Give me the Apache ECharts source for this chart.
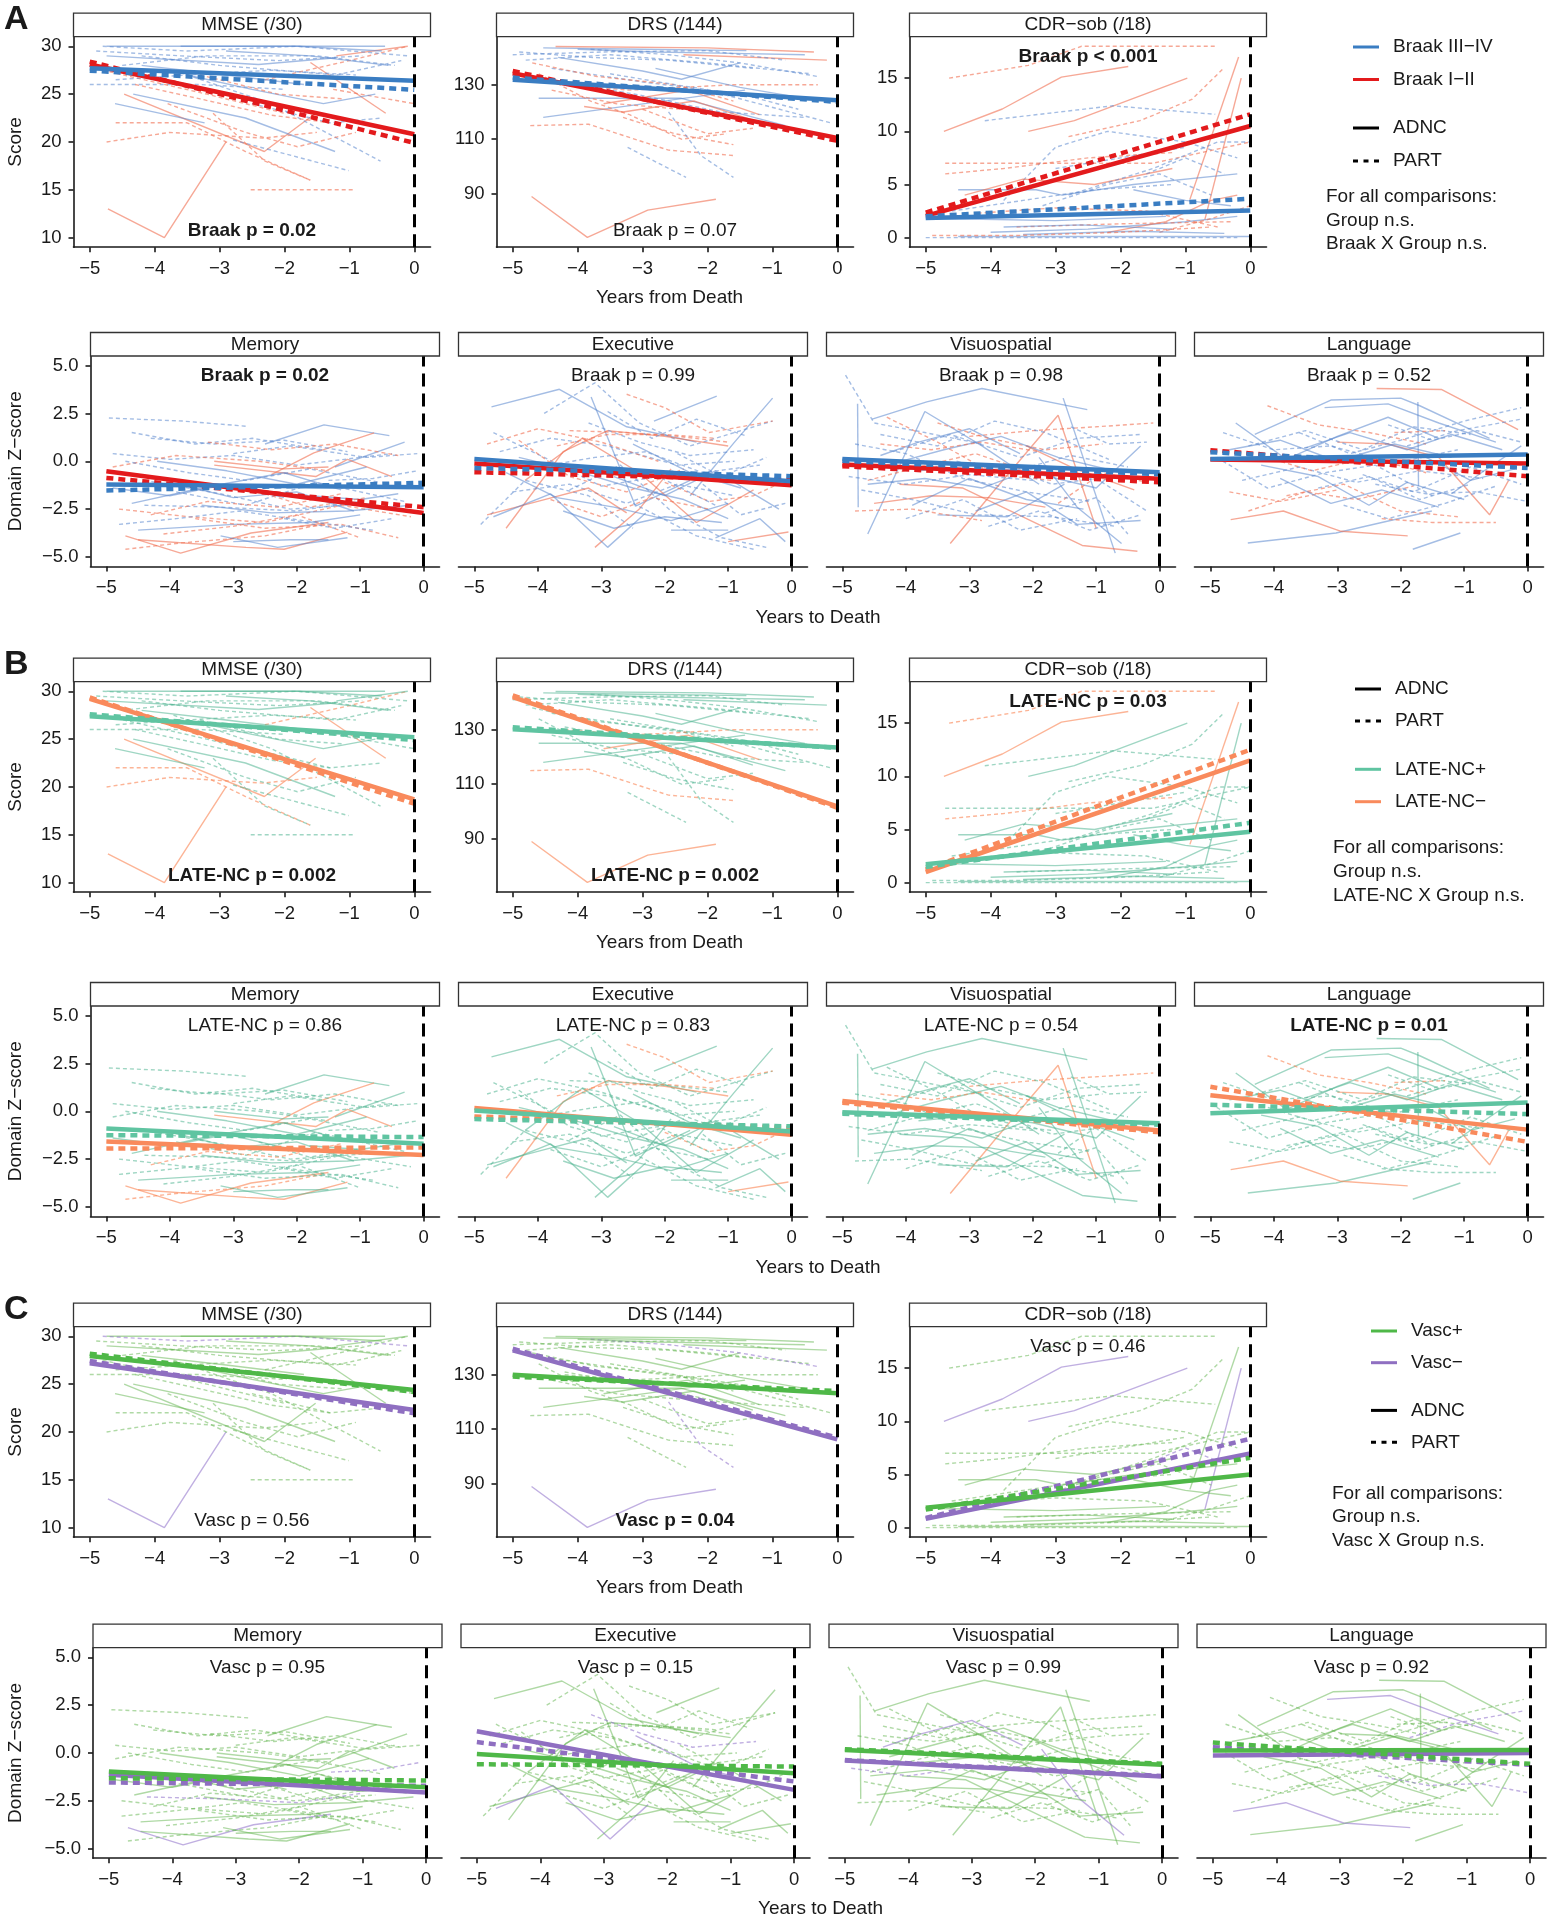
<!DOCTYPE html>
<html>
<head>
<meta charset="utf-8">
<script src="https://cdn.jsdelivr.net/npm/echarts@6/dist/echarts.min.js"></script>
<style>
html, body { margin: 0; padding: 0; background: #fff; }
#main { width: 1550px; height: 1920px; }
</style>
</head>
<body>
<div id="main"></div>
<script>
var FONT = '"Liberation Sans", Arial, sans-serif';
var INK = '#1a1a1a';

// ---- axes ----
var xTicks = [-5, -4, -3, -2, -1, 0];
var measureNames = ['MMSE (/30)', 'DRS (/144)', 'CDR\u2212sob (/18)', 'Memory', 'Executive', 'Visuospatial', 'Language'];
var mmseTicks = [10, 15, 20, 25, 30];
var drsTicks = [90, 110, 130];
var cdrTicks = [0, 5, 10, 15];
var domainTicks = [-5, -2.5, 0, 2.5, 5];

// ---- individual trajectories: code = [ADNC/PART][Braak hi/lo][LATE +/-][Vasc +/-], then x,y pairs ----
var mmseSubjects = [
  ['Al--', [-4.72, 13, -3.85, 10, -2.9, 20]],
  ['Al-+', [-4.47, 25, -2.31, 19, -1.52, 23]],
  ['Ah++', [-4.61, 24, -3.23, 22]],
  ['Ah++', [-4.33, 25, -2.6, 22.5, -1.22, 19]],
  ['Al-+', [-1.6, 28.3, -0.44, 23]],
  ['Ah++', [-4.74, 30, -3, 30, -0.45, 30]],
  ['Ah++', [-4.74, 29, -2.4, 28.1, -1.2, 28.8]],
  ['Pl-+', [-4.74, 20, -3.77, 21, -2.33, 20.4, -1.5, 21]],
  ['Pl-+', [-4.6, 22, -3.5, 22, -2.6, 19, -1.6, 16]],
  ['Pl++', [-2.52, 15, -1.5, 15, -0.91, 15]],
  ['Ph++', [-3.71, 27.5, -2.2, 24, -0.52, 18]],
  ['Ph++', [-5, 26, -3.3, 26, -2, 25.5]],
  ['Ph++', [-2.79, 20.2, -1.01, 17]],
  ['Pl++', [-1.25, 25.5, 0, 24]],
  ['Pl-+', [-2.3, 26.5, -1, 28.5, -0.1, 30]],
  ['Al++', [-1.2, 29, -0.1, 30]],
  ['Ph+-', [-4.8, 30, -3.5, 29.5, -1.8, 30, -0.1, 29]],
  ['Ph++', [-4.5, 28, -3.2, 29, -1.5, 29, -0.3, 28]],
  ['Pl++', [-4.8, 27.5, -3.2, 25, -2, 23]],
  ['Pl++', [-3.1, 23, -2.3, 18, -1.6, 16]],
  ['Ah++', [-3.5, 27, -2.5, 25.5, -1.4, 24, -0.6, 25]],
  ['Pl++', [-3.8, 24, -2.6, 21, -1.8, 19.5, -0.9, 21]],
  ['Ph++', [-4.2, 29, -3, 28, -1.2, 27, -0.2, 28.5]],
  ['Ah++', [-3.6, 30, -1.8, 30, -0.5, 29.5]],
  ['Pl++', [-4.3, 26, -3.3, 24.5, -2.2, 22.8, -1.3, 22]],
  ['Ph++', [-2.5, 24, -1.3, 22, -0.5, 22.5]],
  ['Ph++', [-4.9, 29.5, -3.6, 29, -2.1, 28.5, -0.8, 29]],
  ['Ah++', [-4.2, 28, -2.9, 27, -1.7, 26]],
  ['Pl++', [-3.3, 27, -2.1, 25, -1.1, 24.5]],
  ['Ph++', [-4.6, 26.5, -3.5, 27, -2.2, 27.5, -0.9, 27]],
  ['Ah++', [-2.9, 29.5, -1.6, 29, -0.4, 28]]
];

var drsSubjects = [
  ['Al--', [-4.71, 89, -3.85, 74, -2.92, 84, -1.87, 88]],
  ['Ah++', [-4.53, 143.5, -3, 143, -1.4, 142.5]],
  ['Al++', [-4.34, 144, -2, 143.5, -0.36, 142]],
  ['Al++', [-2.37, 141, -0.16, 139]],
  ['Ah++', [-4.53, 118, -2.37, 125, -1.42, 128]],
  ['Ah++', [-4.6, 125, -2.4, 125, -0.8, 115]],
  ['Al++', [-3.9, 122, -3.3, 120, -2.2, 124, -1.3, 117]],
  ['Pl-+', [-4.73, 115, -3.83, 115.5, -2.6, 106, -1.58, 104]],
  ['Ph++', [-3.23, 107, -2.33, 96]],
  ['Ph++', [-4.8, 139, -3.5, 141, -2, 138, -0.4, 134]],
  ['Ph++', [-4.4, 136, -3, 131, -2, 128, -0.1, 116]],
  ['Ah++', [-4.3, 140, -3, 135, -2.4, 132, -1.5, 138]],
  ['Pl++', [-4.6, 134, -3.8, 124, -3.2, 119, -2.4, 110, -1.7, 112]],
  ['Pl++', [-3, 121, -2, 112, -1.3, 114]],
  ['Ph++', [-5, 141, -3.6, 142, -2, 142.5, -0.8, 139]],
  ['Ph++', [-4.2, 131, -3, 126, -1.8, 120, -0.5, 118]],
  ['Al-+', [-3.6, 123, -2.3, 128, -1.2, 119]],
  ['Pl++', [-4.7, 138, -3.7, 133, -2.5, 130, -1.6, 124]],
  ['Ph+-', [-3.8, 143, -2.6, 141, -1.5, 138, -0.3, 133]],
  ['Pl-+', [-4.2, 130, -3.2, 128, -1.6, 130, -0.3, 130]],
  ['Ah++', [-2.8, 136, -1.5, 129, -0.5, 125]],
  ['Pl++', [-3.3, 118, -2.5, 112, -1.6, 108]],
  ['Ph+-', [-2.6, 120, -2.1, 104, -1.6, 96]],
  ['Ph++', [-4.9, 142, -3.8, 140, -2.6, 139, -1.3, 136]],
  ['Ah++', [-4.0, 143, -2.8, 142, -1.6, 141.5, -0.5, 141]],
  ['Pl++', [-4.4, 128, -3.4, 123, -2.4, 121]],
  ['Ph++', [-3.5, 134, -2.5, 130, -1.4, 126, -0.6, 121]]
];

var cdrSubjects = [
  ['Al--', [-4.72, 10, -3.82, 12.1, -2.91, 15.1, -1.88, 16.1]],
  ['Al+-', [-3.42, 10, -2.71, 11, -0.97, 15]],
  ['Pl-+', [-4.64, 15, -3.42, 16.2, -2.6, 18, -0.54, 18]],
  ['Al-+', [-0.93, 3.6, -0.18, 17]],
  ['Al+-', [-0.7, 1.7, -0.14, 15]],
  ['Ph++', [-4.09, 11, -2.12, 12.4, -0.54, 11.6]],
  ['Ph++', [-3.8, 3.5, -3, 8.5, -2.2, 10, -1, 9, -0.2, 7.5]],
  ['Ah++', [-4.5, 4.5, -3.3, 4.5, -2.9, 4, -1.8, 5, -0.2, 6]],
  ['Pl++', [-4.7, 7, -3.2, 7, -1.5, 7, 0, 9]],
  ['Pl-+', [-4.7, 6, -3.8, 6.5, -2.5, 7.5, -1.2, 8]],
  ['Al++', [-4.4, 4, -3.5, 5.5, -2.4, 5, -1.2, 6.5]],
  ['Ah++', [-4.8, 1.8, -3, 1.6, -1.3, 2]],
  ['Ah++', [-4.5, 0.1, -2, 0.1, 0, 0.1]],
  ['Ph++', [-5, 0, -2.5, 0, -0.2, 0]],
  ['Ah++', [-4, 0.5, -2.5, 0.8, -1, 1.5, -0.2, 2]],
  ['Pl++', [-3.6, 1, -2, 1.3, -0.3, 1.5]],
  ['Ph++', [-3.2, 3, -2.2, 5, -1.4, 6, -0.6, 4]],
  ['Pl++', [-2.8, 9.5, -1.7, 11, -0.9, 13, -0.4, 16]],
  ['Ph++', [-2.8, 4, -1.5, 6.5, -0.5, 9, 0, 9]],
  ['Al++', [-2.2, 0.5, -1.3, 1.5, -0.6, 3.5, -0.2, 4]],
  ['Ah++', [-1.8, 4.5, -1, 3.5, -0.3, 3]],
  ['Pl++', [-4.2, 2.3, -3, 2.8, -1.6, 2.5, -0.5, 1]],
  ['Ph+-', [-1.6, 6, -1, 7.5, -0.4, 6]],
  ['Pl++', [-1.4, 0.5, -0.6, 1.8, 0, 3]],
  ['Ah++', [-3.5, 0.3, -1.8, 0.6, -0.4, 0.4]],
  ['Ph++', [-4.6, 2.5, -3.5, 3.5, -2.4, 4.5, -1.2, 5]],
  ['Ah++', [-3.8, 1.0, -2.6, 1.2, -1.2, 0.8]],
  ['Pl++', [-4.9, 0.2, -3.6, 0.2, -2.0, 0.5, -0.6, 1]],
  ['Ph++', [-3.0, 6.5, -2.0, 7.5, -1.0, 8.5]]
];

var memorySubjects = [
  ['Ph++', [-4.96, 2.26, -3.8, 2.1, -2.8, 1.83]],
  ['Ah++', [-2.5, 0.9, -1.57, 1.9, -0.54, 1.34]],
  ['Al-+', [-2.4, -0.7, -1.73, 0.44, -0.78, 1.48]],
  ['Ah++', [-1.4, -0.3, -0.3, 1.0]],
  ['Al--', [-4.7, -3.9, -3.83, -4.8, -2.72, -3.75, -1.5, -3.2]],
  ['Al-+', [-4.5, -4.1, -2.8, -4.5, -2.2, -4.6, -1.2, -3.7]],
  ['Pl-+', [-4.7, -4.6, -3.83, -4.27, -2.5, -3.9, -1.6, -3.3]],
  ['Al-+', [-3.3, -0.2, -1.7, -0.8, -1.2, 0.1, -0.5, -0.8]],
  ['Ah++', [-4.5, -3.6, -3, -3.3, -1.8, -3.2, -1, -2.8]],
  ['Ah++', [-3, -4.2, -2.1, -4.1, -1.5, -4.1]],
  ['Ph++', [-4.9, 0.4, -4, 0.1, -3, 0.3, -2, -0.2, -0.5, 0.4]],
  ['Ph++', [-4.3, 1.2, -3.3, 0.9, -2.2, 1.1, -1.2, 0.5]],
  ['Ah++', [-4.6, -2.2, -3.5, -1.4, -2.2, -0.6, -1.3, -1.5]],
  ['Pl++', [-4.8, -2.5, -3.7, -2.9, -2.5, -3.2, -1.3, -2.3, -0.2, -2.9]],
  ['Ph++', [-3.9, -1.6, -2.8, -2.3, -1.7, -1.1, -0.3, -2.1]],
  ['Ah++', [-4.2, 0.0, -3.1, -0.5, -2, -1.2, -0.9, -0.3]],
  ['Pl++', [-3.6, -3.0, -2.5, -3.5, -1.3, -3.3, -0.4, -4.0]],
  ['Ph++', [-4.4, -1.0, -3.2, -1.7, -2.1, -2.5, -0.8, -2.2]],
  ['Pl++', [-4.9, -0.3, -3.9, 0.3, -2.6, 0.0, -1.5, -0.5]],
  ['Ah++', [-3.5, -2.3, -2.4, -2.7, -1.2, -2.6, -0.2, -2.3]],
  ['Ph+-', [-1.5, -1.0, -0.8, -0.9, -0.1, -0.5]],
  ['Ph++', [-3.0, 0.4, -2.1, 0.8, -0.9, 0.2, -0.1, 0.4]],
  ['Al++', [-3.3, 0.0, -2.2, -0.4, -1.5, -0.3]],
  ['Pl++', [-4.1, -3.8, -3, -3.4, -2, -2.8, -1, -4.0]],
  ['Ph+-', [-4.4, -2.3, -3.2, -2.4, -2, -2.6, -1, -2.1]],
  ['Ph++', [-4.6, 1.5, -3.6, 0.9, -2.7, 1.2, -1.6, 0.6]],
  ['Ah++', [-1.8, -1.8, -1, -2.0, -0.4, -1.7]],
  ['Pl++', [-2.6, -1.6, -1.8, -2.4, -0.9, -1.9]],
  ['Ph++', [-4.8, -3.3, -3.9, -3.0, -2.9, -2.6, -1.9, -3.1, -0.8, -3.6]],
  ['Ah++', [-4.0, -1.1, -3.0, -1.9, -2.0, -1.6, -1.1, -2.6]],
  ['Pl++', [-3.4, 1.0, -2.4, 0.6, -1.4, 0.9, -0.4, 0.3]],
  ['Ph++', [-4.7, 0.0, -3.7, -0.6, -2.8, -1.0, -1.8, -0.4, -0.7, -1.1]],
  ['Ah++', [-3.2, -3.9, -2.3, -4.5, -1.2, -4.0]],
  ['Pl-+', [-4.3, -2.8, -3.4, -2.1, -2.3, -2.4, -1.3, -1.7]],
  ['Ph++', [-2.2, -3.0, -1.4, -3.5, -0.5, -3.0]],
  ['Ah++', [-4.9, -1.4, -4.0, -1.8, -3.1, -1.2, -2.2, -1.9]]
];

var executiveSubjects = [
  ['Ah++', [-4.73, 2.84, -3.66, 3.76, -2.6, 1.8, -1.5, 1.0]],
  ['Ah++', [-3.16, 3.36, -2.46, -2.35, -1.6, -1.0]],
  ['Ah++', [-2.17, 2.1, -1.18, 3.4]],
  ['Ph++', [-3.9, 2.5, -3.1, 4.1, -2.4, 2.0, -1.6, 0.8, -0.3, 2.1]],
  ['Pl-+', [-2.6, 3.5, -2.0, 2.8, -1.3, 1.5, -0.3, 2.1]],
  ['Al-+', [-4.5, -3.5, -3.6, 0.5, -2.9, 1.6, -2.0, 1.3, -1.0, 0.8]],
  ['Ah++', [-1.9, -3.6, -1.0, -3.6]],
  ['Al-+', [-1.0, -4.2, -0.05, -3.7]],
  ['Al++', [-3.1, -4.5, -2.4, -2.5, -1.9, -0.4]],
  ['Ph++', [-4.9, -3.3, -4.2, -1.0, -3.2, -1.8, -2.5, -3.5]],
  ['Ph++', [-4.6, 0.5, -3.8, 1.2, -2.9, 0.8, -1.8, -0.2, -0.9, 0.0]],
  ['Al++', [-4.2, -1.0, -3.3, 1.2, -2.4, -0.6, -1.5, -3.2, -0.6, -1.5]],
  ['Ah++', [-2.8, -0.8, -2.0, -1.8, -1.2, -0.5, -0.2, -2.5]],
  ['Pl++', [-4.8, 0.9, -4.0, 1.7, -3.0, 1.0, -2.1, 0.0]],
  ['Ph++', [-3.5, -1.5, -2.7, -0.2, -1.9, -2.6, -1.1, -4.0, -0.4, -4.5]],
  ['Ah++', [-4.3, 0.2, -3.4, -0.5, -2.5, -1.4, -1.7, -2.0, -1.0, -3.0]],
  ['Ph++', [-1.4, -1.2, -0.8, -2.8, -0.1, -2.2]],
  ['Ah++', [-1.6, -1.8, -0.9, 1.0, -0.3, 3.3]],
  ['Pl++', [-3.8, -2.0, -3.0, -2.9, -2.2, -1.9, -1.3, -2.5]],
  ['Ph++', [-4.4, -1.6, -3.5, -1.2, -2.6, -2.2, -1.8, -1.2, -0.9, -1.8]],
  ['Al++', [-4.8, -2.8, -4.0, -2.1, -3.2, -1.4, -2.6, -2.7]],
  ['Ph+-', [-3.2, 2.0, -2.4, 1.0, -1.6, 0.3, -0.6, 0.6]],
  ['Ah+-', [-4.7, -2.9, -3.8, -1.7, -2.9, -4.5, -2.3, -2.7]],
  ['Pl-+', [-2.0, -1.1, -1.3, -2.1, -0.6, -1.8, -0.1, -1.0]],
  ['Ph++', [-4.0, -0.3, -3.1, 0.2, -2.3, 0.5, -1.4, -0.6, -0.5, -0.2]],
  ['Ah++', [-1.2, -4.0, -0.5, -3.0, -0.1, -4.2]],
  ['Ph++', [-2.5, -2.2, -1.5, -3.9, -0.6, -4.6]],
  ['Pl++', [-3.5, 1.6, -2.6, 1.5, -1.8, 1.3, -1.0, 1.0]],
  ['Ph++', [-4.7, 1.5, -3.9, 0.2, -3.0, -1.3, -2.1, -0.8, -1.2, -2.3]],
  ['Ah++', [-3.6, -2.6, -2.8, -3.5, -2.0, -2.9, -1.1, -3.2]],
  ['Pl++', [-4.3, 1.1, -3.5, -0.8, -2.6, -1.6, -1.7, -0.4]],
  ['Ph++', [-2.9, 2.6, -2.2, 1.2, -1.5, 2.2, -0.7, 1.3]],
  ['Ah++', [-4.5, -0.6, -3.7, -1.9, -2.8, -2.4, -1.9, -3.1, -1.0, -2.2]],
  ['Pl-+', [-3.7, 0.8, -2.9, 1.4, -2.0, 1.4, -1.2, 1.2]],
  ['Ph++', [-1.8, 0.4, -1.1, -0.8, -0.4, 0.2]],
  ['Ah+-', [-2.5, 0.9, -1.6, -0.6, -0.8, -1.4]]
];

var visuoSubjects = [
  ['Ah++', [-4.53, 2.2, -3.67, 3.1, -2.8, 3.8, -1.14, 2.7]],
  ['Ah++', [-1.52, 3.3, -0.7, -4.8]],
  ['Al++', [-4.1, -1.2, -3.1, -1.4, -1.22, -4.4, -0.35, -4.7]],
  ['Al-+', [-3.3, -4.3, -2.6, -1.5, -1.6, 2.4, -1.0, -3.5]],
  ['Ah++', [-4.76, 3.0, -4.75, -2.4]],
  ['Ah++', [-4.6, -3.8, -3.7, 2.6, -2.8, 0.8, -1.9, -1.2]],
  ['Ph++', [-4.95, 4.5, -4.5, 2.0, -3.7, 1.5, -2.8, 0.9]],
  ['Pl++', [-4.3, 2.3, -3.5, 1.0, -2.6, -0.7, -1.7, -1.0]],
  ['Al++', [-4.5, -2.2, -3.6, -1.8, -2.7, -1.9, -1.8, -2.4]],
  ['Ph++', [-4.2, 0.5, -3.3, 1.4, -2.2, 0.2, -1.3, 1.2, -0.3, 1.4]],
  ['Pl-+', [-3.0, 1.3, -2.0, 1.6, -1.0, 1.8, -0.1, 2.0]],
  ['Ah++', [-3.8, -0.5, -2.9, -0.2, -2.0, -0.6, -1.0, -1.4, -0.3, 0.8]],
  ['Ph++', [-4.7, -1.5, -3.9, -2.0, -2.9, -2.8, -1.7, -2.9, -0.7, -3.4]],
  ['Ph++', [-2.5, -0.2, -1.7, -1.2, -1.0, -0.9, -0.2, -2.6]],
  ['Ah++', [-2.9, -2.6, -2.1, -1.6, -1.3, -3.3, -0.3, -3.1]],
  ['Pl++', [-4.6, -1.0, -3.8, -0.3, -2.9, 0.4, -2.1, -0.5]],
  ['Ph++', [-4.0, -3.0, -3.1, -2.0, -2.2, -3.6, -1.3, -3.0]],
  ['Al++', [-2.1, 0.8, -1.4, -0.3, -0.4, -1.5]],
  ['Ph++', [-1.8, -2.7, -1.0, -1.9, -0.5, -3.8]],
  ['Ah+-', [-4.4, 0.3, -3.8, 1.0, -3.0, 1.7, -2.2, 0.4]],
  ['Ph+-', [-4.9, -0.8, -4.0, -1.2, -3.0, -0.7, -2.0, -1.0]],
  ['Ph++', [-4.4, 1.4, -3.5, 0.8, -2.6, 2.1, -1.8, 1.5, -0.8, 0.1]],
  ['Ah++', [-3.5, -2.8, -2.4, -2.9, -1.5, -1.2]],
  ['Pl++', [-1.6, -2.2, -0.9, -0.6, -0.2, -1.1]],
  ['Ph++', [-3.2, 0.0, -2.4, -0.6, -1.4, 0.3, -0.5, -0.3]],
  ['Ah+-', [-1.9, 0.2, -1.3, -2.4, -0.6, -4.3]],
  ['Pl++', [-4.8, -2.6, -3.9, -2.5, -2.8, -3.1]],
  ['Ph++', [-4.8, 0.9, -4.0, 0.4, -3.1, -0.9, -2.1, -1.6, -1.1, -2.1]],
  ['Ah++', [-3.9, -2.3, -3.0, -0.9, -2.1, -2.0, -1.2, -2.5]],
  ['Pl++', [-3.5, 2.0, -2.7, 1.2, -1.8, 0.6, -0.9, 0.9]],
  ['Ph++', [-2.7, -3.4, -1.9, -2.6, -1.1, -3.6, -0.3, -2.8]],
  ['Ah++', [-4.3, -0.2, -3.4, 0.6, -2.5, 1.3, -1.6, 0.2, -0.6, -0.6]],
  ['Pl-+', [-4.4, 0.9, -3.6, 0.6, -2.8, 1.0, -1.9, 0.5]],
  ['Ph++', [-1.4, 1.8, -0.8, 0.9, -0.2, 1.0]],
  ['Ah++', [-4.6, -1.2, -3.7, -0.9, -2.8, -1.4, -2.0, -0.4]]
];

var languageSubjects = [
  ['Al++', [-2.38, 3.8, -1.36, 3.75, -0.15, 1.65]],
  ['Ah++', [-4.3, 1.4, -3.1, 3.2, -2.0, 3.3, -1.7, 2.9, -0.6, 1.2]],
  ['Ah++', [-4.41, -4.27, -3.02, -3.75, -1.51, -2.6]],
  ['Ah++', [-1.81, -4.6, -1.06, -3.75]],
  ['Al--', [-4.68, -3.05, -3.85, -2.6, -2.94, -3.66, -1.89, -3.9]],
  ['Ah++', [-1.73, 3.1, -1.72, -1.3]],
  ['Pl-+', [-4.1, 2.9, -3.3, 1.9, -2.5, 1.5, -1.6, 0.9]],
  ['Ph++', [-4.8, 1.5, -4.0, 0.6, -3.1, 0.8, -2.1, -0.1, -1.1, 0.6]],
  ['Ph++', [-4.5, -1.0, -3.6, -0.3, -2.7, -1.1, -1.7, -0.5, -0.7, -0.9]],
  ['Ah++', [-4.6, 2.0, -3.8, 0.1, -3.0, 1.3, -2.2, 2.3, -1.4, 1.2]],
  ['Pl++', [-3.8, -1.8, -2.9, -1.2, -2.0, -2.6, -1.1, -2.9]],
  ['Ph++', [-3.6, 1.5, -2.8, 0.4, -2.0, 1.1, -1.0, 2.1, -0.1, 2.8]],
  ['Al-+', [-3.0, 1.0, -2.2, 0.9, -1.4, 0.2, -0.6, -2.8, -0.3, -1.0]],
  ['Ah++', [-4.2, -0.2, -3.3, -0.8, -2.5, -2.3, -1.9, -1.1, -1.0, -2.0]],
  ['Ph++', [-2.9, -2.3, -2.2, -3.0, -1.3, -2.2, -0.5, -1.3]],
  ['Pl++', [-2.3, -3.0, -1.5, -3.2, -0.5, -3.2]],
  ['Ah+-', [-3.2, 2.8, -2.2, 3.0, -1.4, 2.0, -0.5, 1.0]],
  ['Ph+-', [-1.9, 0.8, -1.1, 1.6, -0.1, 2.2]],
  ['Ph++', [-4.9, 0.2, -4.1, -1.4, -3.2, -0.6, -2.4, -0.2, -1.5, -1.8]],
  ['Ah++', [-3.5, 0.7, -2.8, 1.5, -1.9, 0.6, -1.2, 1.4, -0.4, 0.6]],
  ['Pl++', [-4.4, -2.6, -3.5, -1.6, -2.7, -2.0, -1.8, -1.3]],
  ['Ph++', [-2.6, -0.7, -1.8, -1.6, -0.9, -0.3, -0.1, -1.2]],
  ['Ah++', [-1.2, -1.7, -0.6, -0.3, -0.1, 0.8]],
  ['Ph+-', [-2.4, -1.2, -1.6, -1.7, -0.8, -1.6, 0, -2.1]],
  ['Pl++', [-4.7, -1.6, -3.9, -2.1, -3.0, -1.5]],
  ['Ph++', [-4.4, 0.8, -3.5, 1.6, -2.6, 0.6, -1.8, 1.8, -0.9, 1.4]],
  ['Ah++', [-3.9, -0.9, -3.1, -2.2, -2.3, -1.5, -1.4, -2.4]],
  ['Pl++', [-4.2, 0.3, -3.4, -0.5, -2.5, 0.2, -1.6, -0.6]],
  ['Ph++', [-2.2, 1.9, -1.5, 1.1, -0.8, 1.6, -0.1, 1.0]],
  ['Ah++', [-4.7, 0.6, -3.9, 1.1, -3.0, 0.0, -2.1, 0.9, -1.2, 0.2]],
  ['Pl-+', [-2.1, 1.5, -1.3, 1.6]],
  ['Ph++', [-3.3, -1.4, -2.5, -0.8, -1.7, -2.0, -0.9, -1.2]],
  ['Ah++', [-1.6, 0.2, -0.9, -1.0, -0.2, -0.4]]
];

// ---- fitted lines at year -5 and year 0: [g1 solid, g1 dashed, g2 solid, g2 dashed] ----
var braakFits = [
  [27.7, 26.4, 27.45, 25.45, 28.1, 20.8, 28.4, 19.9],
  [131.8, 124.3, 132.6, 123.7, 134.2, 110.5, 135, 109.4],
  [1.85, 2.55, 2.0, 3.66, 2.05, 10.5, 2.36, 11.6],
  [-1.22, -1.36, -1.53, -1.13, -0.52, -2.7, -0.87, -2.4],
  [0.12, -1.05, -0.35, -0.78, -0.12, -1.25, -0.57, -0.99],
  [0.12, -0.57, 0.02, -0.68, -0.17, -0.92, -0.26, -1.1],
  [0.12, 0.35, 0.47, -0.35, 0.09, -0.12, 0.58, -0.78]
];
var lateFits = [
  [27.4, 25.2, 27.6, 24.9, 29.2, 18.7, 29.35, 18.25],
  [130.2, 123.5, 130.9, 123.3, 141.9, 101.9, 142.6, 101.4],
  [1.73, 4.78, 1.48, 5.63, 1.0, 11.5, 1.23, 12.5],
  [-0.9, -1.7, -1.25, -1.35, -1.58, -2.28, -1.95, -1.89],
  [0.04, -1.06, -0.41, -0.79, 0.17, -1.23, -0.27, -0.88],
  [-0.05, -0.63, -0.13, -0.7, 0.53, -1.0, 0.45, -1.1],
  [-0.1, 0.46, 0.34, -0.15, 0.84, -0.96, 1.28, -1.6]
];
var vascFits = [
  [27.94, 24.38, 28.18, 24.17, 27.17, 22.29, 27.42, 21.94],
  [130, 123.2, 129.3, 124, 138.9, 106.3, 139.5, 106.9],
  [1.86, 5.0, 1.7, 6.57, 0.82, 6.98, 0.91, 8.36],
  [-0.97, -1.79, -1.32, -1.44, -1.14, -2.07, -1.54, -1.72],
  [-0.05, -1.06, -0.59, -0.71, 1.13, -1.93, 0.57, -1.49],
  [0.16, -0.62, 0.2, -0.57, -0.4, -1.23, -0.37, -1.2],
  [0.13, 0.16, 0.54, -0.57, -0.13, 0.0, 0.3, -0.62]
];

var braakP = ['Braak p = 0.02', 'Braak p = 0.07', 'Braak p < 0.001', 'Braak p = 0.02', 'Braak p = 0.99', 'Braak p = 0.98', 'Braak p = 0.52'];
var braakBold = [1, 0, 1, 1, 0, 0, 0];
var lateP = ['LATE-NC p = 0.002', 'LATE-NC p = 0.002', 'LATE-NC p = 0.03', 'LATE-NC p = 0.86', 'LATE-NC p = 0.83', 'LATE-NC p = 0.54', 'LATE-NC p = 0.01'];
var lateBold = [1, 1, 1, 0, 0, 0, 1];
var vascP = ['Vasc p = 0.56', 'Vasc p = 0.04', 'Vasc p = 0.46', 'Vasc p = 0.95', 'Vasc p = 0.15', 'Vasc p = 0.99', 'Vasc p = 0.92'];
var vascBold = [0, 1, 0, 0, 0, 0, 0];

// ---- layout ----
var rowTops = [36.7, 356, 681.7, 1006, 1326.7, 1647.7];
var plotH = 210.5;
var topLefts = [73.5, 496.5, 909.5];
var topW = 357;
var domLefts = [90.5, 458.5, 826.5, 1194.5];
var domW = 349;

var subjects = [mmseSubjects, drsSubjects, cdrSubjects, memorySubjects, executiveSubjects, visuoSubjects, languageSubjects];
var yTickSets = [mmseTicks, drsTicks, cdrTicks, domainTicks, domainTicks, domainTicks, domainTicks];
var yMins = [9, 70.4, -0.9, -5.5, -5.5, -5.5, -5.5];
var yMaxs = [31, 147.6, 18.9, 5.5, 5.5, 5.5, 5.5];
var pAtTop = [false, false, true, true, true, true, true];

var sections = [
  { letter: 'A', code: 1, pos: 'h', fits: braakFits, p: braakP, bold: braakBold,
    main: ['#3a7dc2', '#e31a1c'], faint: ['rgba(90,135,205,0.55)', 'rgba(240,110,80,0.6)'],
    names: ['Braak III\u2212IV', 'Braak I\u2212II'], groupFirst: true,
    legY: [47, 79.5, 128, 161], legX: 1353, noteX: 1326, noteY: [197, 220.5, 244],
    notes: ['For all comparisons:', 'Group n.s.', 'Braak X Group n.s.'] },
  { letter: 'B', code: 2, pos: '+', fits: lateFits, p: lateP, bold: lateBold,
    main: ['#5fc4a1', '#f98a5c'], faint: ['rgba(80,180,145,0.55)', 'rgba(250,130,80,0.6)'],
    names: ['LATE-NC+', 'LATE-NC\u2212'], groupFirst: false,
    legY: [689, 721, 769.3, 801.7], legX: 1355, noteX: 1333, noteY: [848, 871.5, 895.5],
    notes: ['For all comparisons:', 'Group n.s.', 'LATE-NC X Group n.s.'] },
  { letter: 'C', code: 3, pos: '+', fits: vascFits, p: vascP, bold: vascBold,
    main: ['#4fb848', '#8f6fc1'], faint: ['rgba(95,180,75,0.5)', 'rgba(140,110,200,0.55)'],
    names: ['Vasc+', 'Vasc\u2212'], groupFirst: true,
    legY: [1331, 1362.7, 1410.4, 1442.3], legX: 1371, noteX: 1332, noteY: [1493.7, 1517, 1540.3],
    notes: ['For all comparisons:', 'Group n.s.', 'Vasc X Group n.s.'] }
];

function minusFmt(v) { return v < 0 ? '\u2212' + (-v) : String(v); }
function domFmt(v) { var s = Math.abs(v).toFixed(1); return v < 0 ? '\u2212' + s : s; }

var grids = [], xAxes = [], yAxes = [], series = [], graphics = [];

function txt(x, y, text, opts) {
  opts = opts || {};
  graphics.push({
    type: 'text', x: x, y: y, rotation: opts.rot || 0, silent: true, z: 100,
    style: {
      text: text, fill: INK, fontFamily: FONT, fontSize: opts.size || 19,
      fontWeight: opts.bold ? 'bold' : 'normal',
      align: opts.align || 'center', verticalAlign: 'middle'
    }
  });
}

sections.forEach(function (sec, s) {
  for (var m = 0; m < 7; m++) {
    var p = s * 7 + m;
    var isTop = m < 3;
    var row = s * 2 + (isTop ? 0 : 1);
    var left = isTop ? topLefts[m] : domLefts[m - 3] + (s === 2 ? 2.5 : 0);
    var width = isTop ? topW : domW;
    var top = rowTops[row];
    grids.push({ left: left, top: top, width: width, height: plotH, containLabel: false });

    xAxes.push({
      gridIndex: p, type: 'value', min: -5.25, max: 0.25,
      axisLine: { onZero: false, lineStyle: { color: INK, width: 1.6 } },
      axisTick: { length: 5, customValues: xTicks, lineStyle: { color: INK, width: 1.6 } },
      axisLabel: { customValues: xTicks, margin: 12, fontSize: 18.5, color: INK, fontFamily: FONT, formatter: minusFmt },
      splitLine: { show: false }
    });
    var showY = m <= 3;
    yAxes.push({
      gridIndex: p, type: 'value', min: yMins[m], max: yMaxs[m], show: showY,
      axisLine: { show: showY, onZero: false, lineStyle: { color: INK, width: 1.6 } },
      axisTick: { show: showY, length: 5, customValues: yTickSets[m], lineStyle: { color: INK, width: 1.6 } },
      axisLabel: { show: showY, customValues: yTickSets[m], margin: 12, fontSize: 18.5, color: INK, fontFamily: FONT,
        formatter: m >= 3 ? domFmt : minusFmt },
      splitLine: { show: false }
    });

    // individual trajectories
    subjects[m].forEach(function (sub) {
      var code = sub[0], flat = sub[1], pts = [];
      for (var i = 0; i < flat.length; i += 2) pts.push([flat[i], flat[i + 1]]);
      var g = code[sec.code] === sec.pos ? 0 : 1;
      series.push({
        type: 'line', xAxisIndex: p, yAxisIndex: p, data: pts, symbol: 'none', silent: true,
        animation: false, z: 2,
        lineStyle: { color: sec.faint[g], width: 1.4, type: code[0] === 'P' ? [4, 3] : 'solid' }
      });
    });

    // fitted lines: group 2 first, group 1 on top
    var f = sec.fits[m];
    var order = [[1, 1], [1, 0], [0, 1], [0, 0]]; // [group, dashed]
    order.forEach(function (o, k) {
      var idx = o[0] * 4 + o[1] * 2;
      var ser = {
        type: 'line', xAxisIndex: p, yAxisIndex: p, data: [[-5, f[idx]], [0, f[idx + 1]]],
        symbol: 'none', silent: true, animation: false, z: 3,
        lineStyle: { color: sec.main[o[0]], width: 4.5, type: o[1] ? [7, 5] : 'solid', cap: 'butt' }
      };
      if (k === order.length - 1) {
        ser.markLine = {
          silent: true, symbol: ['none', 'none'], label: { show: false }, animation: false,
          lineStyle: { color: '#000', width: 3, type: [13, 7] },
          data: [{ xAxis: 0 }]
        };
      }
      series.push(ser);
    });

    // strip
    graphics.push({
      type: 'rect', silent: true, z: 90,
      shape: { x: left, y: top - 23.5, width: width, height: 23.5 },
      style: { fill: '#fff', stroke: '#333', lineWidth: 1.3 }
    });
    txt(left + width / 2, top - 11.5, measureNames[m], { size: 19 });

    // p-value label
    var py = pAtTop[m] ? top + 20 : top + plotH - 16.5;
    txt(left + width / 2, py, sec.p[m], { bold: !!sec.bold[m] });
  }

  var r1 = rowTops[s * 2], r2 = rowTops[s * 2 + 1];
  // section letter
  txt(4, r1 - 17, sec.letter, { size: 34, bold: true, align: 'left' });
  // axis titles
  txt(15.7, r1 + plotH / 2, 'Score', { rot: Math.PI / 2 });
  txt(15.7, r2 + plotH / 2, 'Domain Z\u2212score', { rot: Math.PI / 2 });
  txt(669.5, r1 + plotH + 51, 'Years from Death');
  txt(818 + (s === 2 ? 2.5 : 0), r2 + plotH + 51, 'Years to Death');

  // legend
  var items = sec.groupFirst
    ? [[sec.names[0], sec.main[0], false], [sec.names[1], sec.main[1], false], ['ADNC', '#000', false], ['PART', '#000', true]]
    : [['ADNC', '#000', false], ['PART', '#000', true], [sec.names[0], sec.main[0], false], [sec.names[1], sec.main[1], false]];
  items.forEach(function (it, i) {
    var y = sec.legY[i];
    graphics.push({
      type: 'line', silent: true, z: 100,
      shape: { x1: sec.legX, y1: y, x2: sec.legX + 26, y2: y },
      style: { stroke: it[1], lineWidth: 3, lineDash: it[2] ? [5, 5.5] : null }
    });
    txt(sec.legX + 40, y, it[0], { align: 'left' });
  });
  sec.notes.forEach(function (n, i) {
    txt(sec.noteX, sec.noteY[i], n, { align: 'left' });
  });
});

var chart = echarts.init(document.getElementById('main'), null, { renderer: 'canvas' });
chart.setOption({
  backgroundColor: '#fff',
  animation: false,
  grid: grids,
  xAxis: xAxes,
  yAxis: yAxes,
  series: series,
  graphic: { elements: graphics }
});
</script>
</body>
</html>
